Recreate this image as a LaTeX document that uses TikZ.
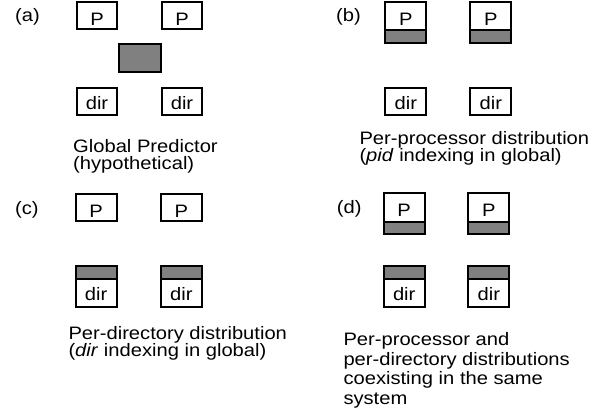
\documentclass[tikz,border=0pt]{standalone}
\usepackage{fontspec}
\newfontfamily\figfont[FakeStretch=1.12]{Liberation Sans}
\newcommand\figlab{\figfont\fontsize{18}{18}\selectfont}
\newcommand\figcap{\figfont\fontsize{18}{17}\selectfont}
\newcommand\figcapwide{\figfont\fontsize{18}{19.5}\selectfont}

\tikzset{
  box/.style={draw, line width=2pt, inner sep=0pt, outer sep=0pt,
              minimum width=40.8pt, text depth=0pt, font=\figlab},
  plainP/.style={box, minimum height=27.4pt, text height=20pt},
  plaindir/.style={box, minimum height=27.4pt, text height=16pt},
  stripP/.style={box, minimum height=41.3pt, text height=13pt, text depth=7pt},
  stripdir/.style={box, minimum height=41.3pt, text height=28pt},
  shade/.style={fill=gray, draw, line width=2pt},
  tag/.style={anchor=north west, inner sep=0pt, font=\figcap},
  caption/.style={anchor=north west, align=left, inner sep=0pt, font=\figcap}
}

\begin{document}
\begin{tikzpicture}[x=1pt, y=-1pt]
\useasboundingbox (0,0) rectangle (604,409);

% (a) global predictor
\node[tag] (ta) at (15,8.3) {(a)};
\node[plainP] (aP1) at (97,15.3) {P};
\node[plainP] (aP2) at (182,15.3) {P};
\node[shade, inner sep=0pt, outer sep=0pt, minimum width=42pt, minimum height=27.4pt] (aG) at (139.7,58) {};
\node[plaindir] (aD1) at (97,101.3) {dir};
\node[plaindir] (aD2) at (182,101.3) {dir};
\node[caption] (ca) at (73,139.3) {Global Predictor\\(hypothetical)};

% (b) per-processor distribution
\node[tag] (tb) at (336,8.3) {(b)};
\node[stripP] (bP1) at (405.8,22.2) {P};
\node[stripP] (bP2) at (490.8,22.2) {P};
\draw[shade] (bP1.south west) rectangle ([yshift=12.5pt]bP1.south east);
\draw[shade] (bP2.south west) rectangle ([yshift=12.5pt]bP2.south east);
\node[plaindir] (bD1) at (405.8,101.3) {dir};
\node[plaindir] (bD2) at (490.8,101.3) {dir};
\node[caption] (cb) at (359.3,131.7) {Per-processor distribution\\(\textit{pid} indexing in global)};

% (c) per-directory distribution
\node[tag] (tc) at (15,201.7) {(c)};
\node[plainP] (cP1) at (96.2,207.5) {P};
\node[plainP] (cP2) at (181.3,207.5) {P};
\node[stripdir] (cD1) at (96.2,286.7) {dir};
\node[stripdir] (cD2) at (181.3,286.7) {dir};
\draw[shade] (cD1.north west) rectangle ([yshift=-13pt]cD1.north east);
\draw[shade] (cD2.north west) rectangle ([yshift=-13pt]cD2.north east);
\node[caption] (cc) at (68.3,326.7) {Per-directory distribution\\(\textit{dir} indexing in global)};

% (d) both distributions together
\node[tag] (td) at (336.7,200) {(d)};
\node[stripP] (dP1) at (404.2,213.8) {P};
\node[stripP] (dP2) at (488.8,213.8) {P};
\draw[shade] (dP1.south west) rectangle ([yshift=12.5pt]dP1.south east);
\draw[shade] (dP2.south west) rectangle ([yshift=12.5pt]dP2.south east);
\node[stripdir] (dD1) at (404.2,286.7) {dir};
\node[stripdir] (dD2) at (488.8,286.7) {dir};
\draw[shade] (dD1.north west) rectangle ([yshift=-13pt]dD1.north east);
\draw[shade] (dD2.north west) rectangle ([yshift=-13pt]dD2.north east);
\node[caption, font=\figcapwide] (cd) at (343.3,332.7) {Per-processor and\\per-directory distributions\\coexisting in the same\\system};
\end{tikzpicture}
\end{document}
